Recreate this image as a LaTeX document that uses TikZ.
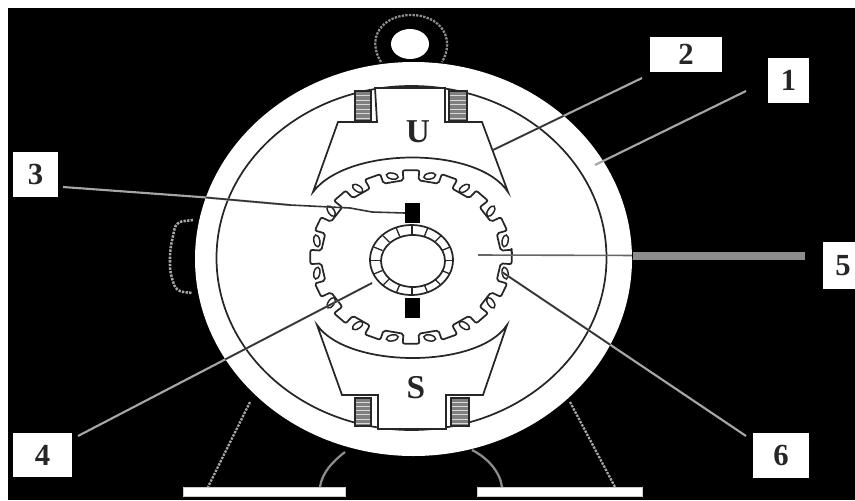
\documentclass[tikz,border=0pt]{standalone}
\usepackage{fontspec}
\setmainfont{Liberation Serif}
\tikzset{
 lab/.style={fill=white,draw=none,inner sep=0pt,font=\fontsize{23}{23}\selectfont\bfseries,text=black!85},
 poletxt/.style={inner sep=0pt,font=\fontsize{25}{25}\selectfont\bfseries,text=black!85},
 ink/.style={draw=black!85,line width=1.3pt},
 lead/.style={draw=black!35,line width=1.6pt},
 leadin/.style={draw=black!80,line width=1.2pt},
 dots/.style={draw=black!35,line width=1.7pt,dash pattern=on 1.8pt off 0.9pt},
 foot/.style={fill=white,draw=black!20,line width=.6pt},
 coilbox/.style={draw=black!85,line width=1.1pt,fill=black!50},
}
\newcommand{\coil}[4]{%
 \draw[coilbox] (#1,#3) rectangle (#2,#4);
 \foreach \yy in {0.15,0.3,0.45,0.6,0.75,0.9}
  \draw[black!15,line width=.6pt] (#1+1,{#3+(#4-#3)*\yy}) -- (#2-1,{#3+(#4-#3)*\yy});
}
\begin{document}
\begin{tikzpicture}[x=0.75pt,y=-0.75pt]
\useasboundingbox (0,0) rectangle (855,500);
\fill[white] (0,0) rectangle (855,500);
\fill[black] (8,8) rectangle (855,500);
% hook
\coordinate (hookL) at (381,62);
\coordinate (hookR) at (442,62);
\draw[dots,draw=black!45] (hookL) .. controls (366,38) and (382,15) .. (411,15) .. controls (440,15) and (456,38) .. (hookR);
\fill[white] (410,44) ellipse (19 and 15);
% terminal box
\coordinate (termA) at (193,220);
\coordinate (termB) at (192,293);
\draw[dots,line width=1.9pt,rounded corners=5pt] (termA) -- (176,222) -- (170,250) -- (170,272) -- (176,291) -- (termB);
% feet
\node[foot,minimum width=121.5pt,minimum height=7pt,inner sep=0pt] (footL) at (264,492) {};
\node[foot,minimum width=124pt,minimum height=7pt,inner sep=0pt] (footR) at (560,492) {};
\coordinate (fa) at (250,402); \coordinate (fb) at (208,487);
\coordinate (fc) at (345,452); \coordinate (fd) at (320,487);
\coordinate (fe) at (472,450); \coordinate (ff) at (502,487);
\coordinate (fg) at (570,402); \coordinate (fh) at (615,487);
\draw[dots] (fa) -- (fb);
\draw[dots,dash pattern=,draw=black!45] (fc) .. controls (332,462) and (322,473) .. (fd);
\draw[dots,dash pattern=,draw=black!45] (fe) .. controls (488,458) and (500,472) .. (ff);
\draw[dots] (fg) -- (fh);
% frame
\fill[white] (413.5,259) ellipse (218.5 and 197);
\draw[ink] (411.5,258) ellipse (195 and 172);
% top pole
\fill[white,draw=black!85,line width=1.3pt] (375,88) -- (445,88) -- (445,122) -- (482,122) -- (508,192)
  .. controls (478,146) and (348,146) .. (313,192) -- (338,122) -- (377,122) -- cycle;
\coil{355}{371}{91}{121}
\coil{449}{467}{91}{121}
% bottom pole
\fill[white,draw=black!85,line width=1.3pt] (378,429) -- (446,429) -- (446,395) -- (483,395) -- (507,325)
  .. controls (478,369) and (348,369) .. (317,325) -- (342,395) -- (378,395) -- cycle;
\coil{355}{371}{398}{426}
\coil{451}{469}{398}{426}
% rotor outline
\draw[ink,rounded corners=1.5pt]
 ({411+101*cos(4.5)},{257-87*sin(4.5)})
 \foreach \a in {11.25,33.75,...,348.75} {
  -- ({411+101*cos(\a-6.5)},{257-87*sin(\a-6.5)})
  -- ({411+90*cos(\a-6.5)},{257-77*sin(\a-6.5)})
  -- ({411+90*cos(\a+6.5)},{257-77*sin(\a+6.5)})
  -- ({411+101*cos(\a+6.5)},{257-87*sin(\a+6.5)})
 } -- cycle;
\foreach \a in {11.25,33.75,...,348.75}{
 \draw[draw=black!85,line width=1.1pt,rotate around={-\a+90:({411+96*cos(\a)},{257-82.5*sin(\a)})}]
   ({411+96*cos(\a)},{257-82.5*sin(\a)}) ellipse (6 and 3);
}
% commutator
\draw[ink] (411.5,260) ellipse (41.5 and 35);
\draw[ink] (413,261) ellipse (32 and 26);
\foreach \a in {0,22.5,...,337.5}
 \draw[draw=black!85,line width=1pt] ({412+32*cos(\a)},{260.5-26*sin(\a)}) -- ({412+41*cos(\a)},{260.5-35*sin(\a)});
% brushes
\node[fill=black,minimum width=11pt,minimum height=15pt,inner sep=0pt] (brushT) at (412.5,213) {};
\node[fill=black,minimum width=11pt,minimum height=15pt,inner sep=0pt] (brushB) at (412.5,307.5) {};
% pole letters
\node[poletxt] (U) at (418,132) {U};
\node[poletxt] (S) at (416,388) {S};
% labels
\node[lab,minimum width=54pt,minimum height=26.25pt] (n2) at (686,54.5) {2};
\node[lab,minimum width=30.75pt,minimum height=33.75pt] (n1) at (788.5,80.5) {1};
\node[lab,minimum width=33.75pt,minimum height=33.75pt] (n3) at (35.5,174.5) {3};
\node[lab,minimum width=44.25pt,minimum height=33pt] (n4) at (42.5,455) {4};
\node[lab,minimum width=24pt,minimum height=35.25pt] (n5) at (839,265.5) {\hspace*{6pt}5};
\node[lab,minimum width=42pt,minimum height=33.75pt] (n6) at (781,455.5) {6};
% leaders
\coordinate (a1) at (746,91);  \coordinate (b1) at (595,165);
\coordinate (a2) at (642,78);  \coordinate (b2) at (493,150);
\coordinate (a3) at (63,187);  \coordinate (m3) at (200,197); \coordinate (k3) at (290,205); \coordinate (b3) at (brushT.west);
\coordinate (a4) at (78,436);  \coordinate (b4) at (372,283);
\coordinate (a5) at (805,256); \coordinate (b5) at (478,255);
\coordinate (a6) at (746,436); \coordinate (b6) at (502,272);
\draw[lead] (a1) -- (b1);
\draw[lead] (a2) -- (b2);
\draw[lead] (a3) -- (m3) -- (k3);
\draw[lead] (a4) -- (b4);
\draw[draw=black!45,line width=6pt] (a5) -- (633,256);
\draw[lead] (a6) -- (b6);
\begin{scope}
 \clip (413.5,259) ellipse (218.5 and 197);
 \draw[leadin] (a2) -- (b2);
 \draw[leadin] (a3) -- (m3) -- (k3) -- (350,208) -- (372,212) -- (b3);
 \draw[leadin] (a4) -- (b4);
 \draw[leadin,draw=black!60] (a5) -- (b5);
 \draw[leadin] (a6) -- (b6);
\end{scope}
\end{tikzpicture}
\end{document}
